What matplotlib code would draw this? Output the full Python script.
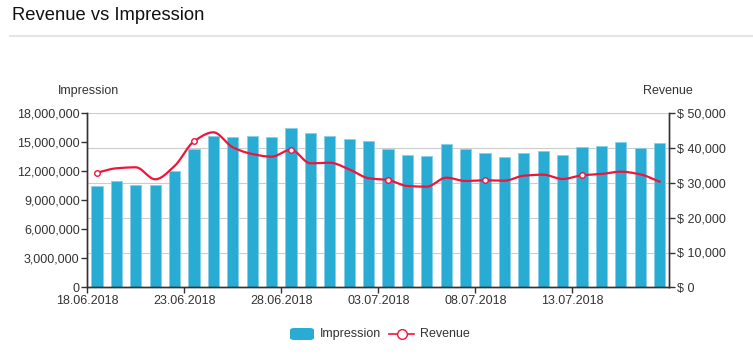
"""Revenue vs Impression: daily bars with smoothed revenue line."""

import matplotlib

matplotlib.use("Agg")
import matplotlib.dates as mdates
import matplotlib.pyplot as plt
import numpy as np
import pandas as pd
from matplotlib.lines import Line2D
from matplotlib.patches import FancyBboxPatch
from matplotlib.ticker import FuncFormatter, MultipleLocator

plt.rcParams["font.family"] = ["Liberation Sans", "DejaVu Sans"]

# Data
start_date = "2018-06-18"
impressions = [
    10480000, 10960000, 10580000, 10580000, 12030000, 14340000, 15680000,
    15550000, 15620000, 15520000, 16450000, 15930000, 15680000, 15370000,
    15100000, 14340000, 13650000, 13620000, 14820000, 14340000, 13860000,
    13510000, 13930000, 14070000, 13650000, 14480000, 14590000, 15030000,
    14380000, 14930000,
]
revenue = [
    32930, 34200, 34480, 31030, 34860, 41950, 44540, 40230, 38300, 37530,
    39540, 35630, 35800, 33900, 31350, 30830, 29110, 28910, 31500, 30550,
    30750, 30630, 32070, 32360, 31120, 32180, 32560, 33220, 32470, 30350,
]

BAR_COLOR = "#29acd3"
LINE_COLOR = "#f0143c"
GRID_COLOR = "#cccccc"
TEXT_COLOR = "#333333"
FS = 9


def monotone_curve(x, y, n=12):
    """Monotone cubic (Fritsch-Carlson) through the points, for drawing."""
    x = np.asarray(x, float)
    y = np.asarray(y, float)
    h = np.diff(x)
    d = np.diff(y) / h
    m = np.zeros_like(y)
    m[0], m[-1] = d[0], d[-1]
    for i in range(1, len(y) - 1):
        if d[i - 1] * d[i] > 0:
            m[i] = 2.0 / (1.0 / d[i - 1] + 1.0 / d[i])
    xs, ys = [], []
    for i in range(len(x) - 1):
        t = np.linspace(0, 1, n, endpoint=False)
        h00 = 2 * t**3 - 3 * t**2 + 1
        h10 = t**3 - 2 * t**2 + t
        h01 = -2 * t**3 + 3 * t**2
        h11 = t**3 - t**2
        xs.append(x[i] + t * h[i])
        ys.append(h00 * y[i] + h10 * h[i] * m[i] + h01 * y[i + 1] + h11 * h[i] * m[i + 1])
    xs.append([x[-1]])
    ys.append([y[-1]])
    return np.concatenate(xs), np.concatenate(ys)


dates = pd.date_range(start_date, periods=len(impressions), freq="D")
centers = mdates.date2num(dates) + 0.5

fig = plt.figure(figsize=(7.53, 3.55), dpi=100)
ax = fig.add_axes([87.3 / 753, 1 - 287.3 / 355, 582 / 753, 174 / 355])
ax2 = ax.twinx()

# Bars
ax.bar(centers, impressions, width=0.58, color=BAR_COLOR,
       edgecolor="#86d0e8", linewidth=0.6, zorder=2)
ax.set_ylim(0, 18000000)
ax.yaxis.set_major_locator(MultipleLocator(3000000))
ax.yaxis.set_major_formatter(FuncFormatter(lambda v, p: f"{int(v):,}"))

x0 = mdates.date2num(dates[0])
ax.set_xlim(x0, x0 + len(impressions))
ax.set_xticks([x0 + k for k in range(0, len(impressions), 5)])
ax.xaxis.set_major_formatter(mdates.DateFormatter("%d.%m.%Y"))

# Revenue line (on right axis)
ax2.set_ylim(0, 50000)
ax2.yaxis.set_major_locator(MultipleLocator(10000))
ax2.yaxis.set_major_formatter(FuncFormatter(lambda v, p: f"$ {int(v):,}"))

cx, cy = monotone_curve(centers, revenue)
ax2.plot(cx, cy, color=LINE_COLOR, linewidth=1.6, zorder=4)
ax2.plot(centers[::5], revenue[::5], linestyle="none", marker="o",
         markersize=4, markerfacecolor="white", markeredgecolor=LINE_COLOR,
         markeredgewidth=1, zorder=5)

# Grid follows the revenue ticks but sits behind the bars
for v in range(10000, 50001, 10000):
    ax.axhline(v * 18000000 / 50000, color=GRID_COLOR, linewidth=0.8, zorder=1)

for a in (ax, ax2):
    a.spines["top"].set_visible(False)
    for s in ("left", "right", "bottom"):
        a.spines[s].set_color(TEXT_COLOR)
        a.spines[s].set_linewidth(1)
    a.tick_params(colors=TEXT_COLOR, labelsize=FS, length=4, width=1,
                  labelcolor=TEXT_COLOR, pad=1.5)
ax.tick_params(axis="x", pad=1.5)

fig.text(58 / 753, 1 - 91 / 355, "Impression", fontsize=FS, color=TEXT_COLOR,
         va="center", ha="left")
fig.text(693 / 753, 1 - 91 / 355, "Revenue", fontsize=FS, color=TEXT_COLOR,
         va="center", ha="right")

# Header
fig.text(12 / 753, 1 - 15.5 / 355, "Revenue vs Impression", fontsize=13.2,
         color="#111111", va="center", ha="left")
fig.add_artist(Line2D([10 / 753, 1], [1 - 36 / 355] * 2, color="#e4e4ea",
                      linewidth=1.5))

# Legend
ly = 1 - 334 / 355
fig.add_artist(FancyBboxPatch((290 / 753, ly - 6 / 355), 24 / 753, 12 / 355,
                              boxstyle="round,pad=0,rounding_size=0.006",
                              facecolor=BAR_COLOR, edgecolor="none",
                              transform=fig.transFigure))
fig.text(320 / 753, ly, "Impression", fontsize=FS, color=TEXT_COLOR,
         va="center", ha="left")
fig.add_artist(Line2D([389 / 753, 414 / 753], [ly, ly], color=LINE_COLOR,
                      linewidth=1.2))
fig.add_artist(Line2D([401.5 / 753], [ly], marker="o", markersize=7,
                      markerfacecolor="white", markeredgecolor=LINE_COLOR,
                      markeredgewidth=1))
fig.text(420 / 753, ly, "Revenue", fontsize=FS, color=TEXT_COLOR,
         va="center", ha="left")

fig.savefig("out.png", dpi=100)
